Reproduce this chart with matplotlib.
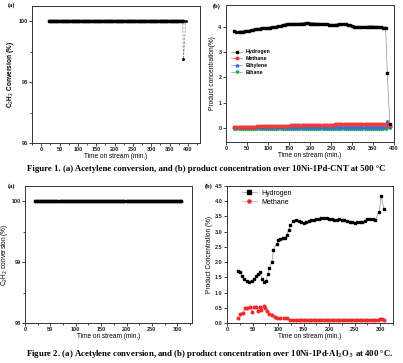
import matplotlib
matplotlib.use("Agg")
import matplotlib.pyplot as plt
from matplotlib.ticker import MultipleLocator, FormatStrFormatter

# ---------------- data ----------------
# Figure 1 (a): C2H2 conversion, 10Ni-1Pd-CNT, 500 C
f1a_time = list(range(20, 387, 3)) + [388, 394]
f1a_conv = [100.0] * 123 + [98.75, 100.0]

# Figure 1 (b): product concentrations
f1b_time = list(range(20, 381, 5)) + [384, 390]
f1b_hydrogen = [3.83, 3.79, 3.79, 3.80, 3.80, 3.81, 3.81, 3.83, 3.85, 3.87,
                3.89, 3.91, 3.92, 3.93, 3.93, 3.94, 3.95, 3.96, 3.97, 3.98,
                3.99, 4.01, 4.03, 4.06, 4.08, 4.10, 4.10, 4.11, 4.11, 4.11,
                4.11, 4.11, 4.12, 4.12, 4.13, 4.13, 4.12, 4.12, 4.12, 4.11,
                4.11, 4.11, 4.10, 4.09, 4.09, 4.08, 4.07, 4.06, 4.07, 4.08,
                4.09, 4.09, 4.10, 4.09, 4.07, 4.05, 4.03, 4.00, 3.99, 3.99,
                3.99, 3.99, 3.99, 3.99, 4.00, 4.00, 4.00, 3.99, 3.99, 3.98,
                3.97, 3.96, 3.96, 2.16, 0.17]
f1b_methane = [0.03, 0.03, 0.04, 0.04, 0.04, 0.05, 0.05, 0.05, 0.06, 0.06,
               0.06, 0.07, 0.07, 0.07, 0.08, 0.08, 0.08, 0.08, 0.09, 0.09,
               0.09, 0.09, 0.10, 0.10, 0.10, 0.10, 0.10, 0.11, 0.11, 0.11,
               0.11, 0.11, 0.11, 0.12, 0.12, 0.12, 0.12, 0.12, 0.12, 0.12,
               0.13, 0.13, 0.13, 0.13, 0.13, 0.13, 0.13, 0.13, 0.14, 0.14,
               0.14, 0.14, 0.14, 0.14, 0.14, 0.14, 0.14, 0.15, 0.15, 0.15,
               0.15, 0.15, 0.15, 0.15, 0.15, 0.15, 0.15, 0.16, 0.16, 0.16,
               0.16, 0.16, 0.16, 0.15, 0.10]
f1b_ethylene = [0.06, 0.06, 0.05, 0.06, 0.06, 0.06, 0.05, 0.06, 0.06, 0.06,
                0.06, 0.06, 0.06, 0.05, 0.06, 0.06, 0.06, 0.06, 0.06, 0.06,
                0.06, 0.06, 0.06, 0.06, 0.05, 0.06, 0.06, 0.06, 0.06, 0.06,
                0.06, 0.06, 0.06, 0.06, 0.06, 0.06, 0.06, 0.06, 0.06, 0.06,
                0.06, 0.06, 0.06, 0.06, 0.06, 0.06, 0.06, 0.06, 0.06, 0.06,
                0.06, 0.06, 0.06, 0.06, 0.06, 0.06, 0.06, 0.06, 0.06, 0.06,
                0.06, 0.06, 0.06, 0.06, 0.06, 0.06, 0.06, 0.06, 0.06, 0.06,
                0.06, 0.06, 0.07, 0.27, 0.08]
f1b_ethane = [-0.02, -0.02, -0.02, -0.02, -0.02, -0.02, -0.02, -0.02, -0.02, -0.02,
              -0.02, -0.02, -0.02, -0.02, -0.02, -0.02, -0.02, -0.02, -0.02, -0.02,
              -0.02, -0.02, -0.02, -0.02, -0.02, -0.02, -0.02, -0.02, -0.02, -0.02,
              -0.02, -0.02, -0.02, -0.02, -0.02, -0.02, -0.02, -0.02, -0.02, -0.02,
              -0.02, -0.02, -0.02, -0.02, -0.02, -0.02, -0.02, -0.02, -0.02, -0.02,
              -0.02, -0.02, -0.02, -0.02, -0.02, -0.02, -0.02, -0.02, -0.02, -0.02,
              -0.02, -0.02, -0.02, -0.02, -0.02, -0.02, -0.02, -0.02, -0.02, -0.02,
              -0.02, -0.02, -0.02, 0.00, -0.01]

# Figure 2 (a): C2H2 conversion, 10Ni-1Pd-Al2O3, 400 C
f2a_time = list(range(20, 311, 4))
f2a_conv = [100.0] * len(range(20, 311, 4))

# Figure 2 (b): product concentrations
f2b_h2_time = [21, 26, 29, 34, 39, 44, 49, 52, 57, 60, 65, 68, 72, 76, 80, 83, 88, 91,
               97, 100, 104, 110, 114, 117, 121, 124] + list(range(130, 295, 5)) + \
              [298, 302, 307]
f2b_hydrogen = [1.72, 1.69, 1.53, 1.44, 1.38, 1.36, 1.38, 1.44, 1.53, 1.61, 1.66, 1.46,
                1.36, 1.38, 1.61, 1.80, 2.02, 2.40, 2.59, 2.71, 2.76, 2.79, 2.79, 2.88,
                3.07, 3.21,
                3.35, 3.37, 3.36, 3.33, 3.30, 3.31, 3.34, 3.37, 3.39, 3.41,
                3.42, 3.44, 3.45, 3.44, 3.42, 3.40, 3.37, 3.38, 3.40, 3.39,
                3.37, 3.35, 3.33, 3.31, 3.30, 3.31, 3.32, 3.33, 3.36, 3.42,
                3.43, 3.41, 3.38,
                3.66, 4.17, 3.75]
f2b_ch4_time = [21, 26, 31, 36, 40, 46, 49, 53, 57, 60, 64, 67, 72, 75, 78, 83, 88, 93,
                98, 104, 111, 117, 124] + list(range(130, 300, 5)) + [300, 303, 307]
f2b_methane = [0.15, 0.31, 0.34, 0.48, 0.50, 0.51, 0.37, 0.53, 0.54, 0.39, 0.53, 0.43,
               0.57, 0.48, 0.39, 0.31, 0.26, 0.20, 0.18, 0.18, 0.17, 0.15, 0.11,
               0.10, 0.09, 0.09, 0.10, 0.10, 0.09, 0.09, 0.10, 0.10, 0.10,
               0.09, 0.09, 0.10, 0.10, 0.10, 0.09, 0.09, 0.09, 0.10, 0.10,
               0.10, 0.10, 0.10, 0.11, 0.11, 0.11, 0.11, 0.11, 0.10, 0.10,
               0.10, 0.11, 0.11, 0.10,
               0.12, 0.14, 0.09]

# ---------------- style ----------------
W, H = 403, 363
fig = plt.figure(figsize=(W / 100, H / 100), dpi=100)
SANS = ["Liberation Sans", "DejaVu Sans"]
TICK_FS = 4.0
LAB_FS = 4.7

def rect(l, r, t, b):
    return [l / W, 1 - b / H, (r - l) / W, (b - t) / H]

def style(ax):
    for s in ax.spines.values():
        s.set_linewidth(0.7)
        s.set_color("#333333")
    ax.tick_params(which="major", direction="out", length=2.0, width=0.6,
                   labelsize=TICK_FS, pad=1.2, colors="#222222")
    ax.tick_params(which="minor", direction="out", length=1.1, width=0.5)
    for lab in ax.get_xticklabels() + ax.get_yticklabels():
        lab.set_fontweight("bold")
        lab.set_family(SANS)

# ---- Fig 1a
ax1 = fig.add_axes(rect(32, 200, 6, 143))
ax1.plot(f1a_time, f1a_conv, color="#888888", lw=0.5, ls="--", zorder=1)
ax1.plot(f1a_time[:-2], f1a_conv[:-2], ls="-", lw=1.6, marker="s", ms=1.5,
         color="black", zorder=2)
ax1.plot(f1a_time[-2:], f1a_conv[-2:], ls="none", marker="s", ms=1.0, color="black", zorder=2)
ax1.set_xlim(-25, 433)
ax1.set_ylim(96, 100.5)
ax1.xaxis.set_major_locator(MultipleLocator(50))
ax1.xaxis.set_minor_locator(MultipleLocator(25))
ax1.yaxis.set_major_locator(MultipleLocator(2))
ax1.yaxis.set_minor_locator(MultipleLocator(1))
ax1.set_xlabel("Time on stream (min.)", fontsize=LAB_FS, family=SANS, labelpad=0.5)
ax1.set_ylabel("C$_2$H$_2$ Conversion (%)", fontsize=LAB_FS, family=SANS, fontweight="bold", labelpad=2)
style(ax1)

# ---- Fig 1b
ax2 = fig.add_axes(rect(226, 394, 5, 142))
ax2.plot(f1b_time[:-2], f1b_hydrogen[:-2], color="black", lw=1.3, zorder=5)
ax2.plot(f1b_time, f1b_hydrogen, color="#777777", lw=0.4, marker="s", ms=2.0,
         mfc="black", mec="black", label="Hydrogen", zorder=5)
ax2.plot(f1b_time, f1b_ethane, color="#1fa84f", lw=0.4, marker="v", ms=1.9,
         mec="#1fa84f", label="Ethane", zorder=2)
ax2.plot(f1b_time, f1b_ethylene, color="#3a6fd8", lw=0.4, marker="^", ms=1.9,
         mec="#3a6fd8", label="Ethylene", zorder=3)
ax2.plot(f1b_time, f1b_methane, color="#ee3b3b", lw=0.4, marker="o", ms=1.9,
         mec="#ee3b3b", label="Methane", zorder=4)
ax2.set_xlim(0, 400)
ax2.set_ylim(-0.55, 4.85)
ax2.xaxis.set_major_locator(MultipleLocator(50))
ax2.yaxis.set_major_locator(MultipleLocator(1))
ax2.set_xlabel("Time on stream (min.)", fontsize=LAB_FS, family=SANS, labelpad=0.5)
ax2.set_ylabel("Product concentration(%)", fontsize=LAB_FS, family=SANS, labelpad=2)
h, l = ax2.get_legend_handles_labels()
order = [0, 3, 2, 1]
ax2.legend([h[i] for i in order], [l[i] for i in order], loc="upper left",
           bbox_to_anchor=(0.0, 0.71), frameon=False,
           prop={"family": SANS, "size": 3.8, "weight": "bold"},
           handlelength=2.2, labelspacing=0.35, markerscale=1.0, handletextpad=0.6)
style(ax2)

# ---- Fig 2a
ax3 = fig.add_axes(rect(25, 192, 186, 323))
ax3.plot(f2a_time, f2a_conv, ls="none", marker="o", ms=1.8, color="black")
ax3.set_xlim(0, 329)
ax3.set_ylim(98, 100.25)
ax3.xaxis.set_major_locator(MultipleLocator(50))
ax3.xaxis.set_minor_locator(MultipleLocator(25))
ax3.yaxis.set_major_locator(MultipleLocator(1))
ax3.yaxis.set_minor_locator(MultipleLocator(0.5))
ax3.set_xlabel("Time on stream (min.)", fontsize=LAB_FS, family=SANS, labelpad=0.5)
ax3.set_ylabel("C$_2$H$_2$ conversion (%)", fontsize=LAB_FS, family=SANS, labelpad=0.8)
style(ax3)

# ---- Fig 2b
ax4 = fig.add_axes(rect(227, 393, 186, 323))
ax4.plot(f2b_h2_time, f2b_hydrogen, color="#777777", lw=0.4, marker="s", ms=2.1,
         mfc="black", mec="black", label="Hydrogen")
ax4.plot(f2b_ch4_time, f2b_methane, color="#f08080", lw=0.4, marker="o", ms=1.9,
         mfc="#ee2b2b", mec="#ee2b2b", label="Methane")
ax4.set_xlim(0, 325)
ax4.set_ylim(0, 4.5)
ax4.xaxis.set_major_locator(MultipleLocator(50))
ax4.xaxis.set_minor_locator(MultipleLocator(25))
ax4.yaxis.set_major_locator(MultipleLocator(0.5))
ax4.yaxis.set_major_formatter(FormatStrFormatter("%.1f"))
ax4.set_xlabel("Time on stream (min.)", fontsize=LAB_FS, family=SANS, labelpad=0.5)
ax4.set_ylabel("Product Concentration (%)", fontsize=LAB_FS, family=SANS, labelpad=1.5)
ax4.legend(loc="upper left", bbox_to_anchor=(0.05, 1.02), frameon=False,
           prop={"family": SANS, "size": 5.0},
           handlelength=2.2, labelspacing=0.3, handletextpad=0.6, markerscale=1.2)
style(ax4)

# panel tags
for x, y, s in [(8, 5, "(a)"), (213, 6, "(b)"), (8, 186, "(a)"), (205, 186, "(b)")]:
    fig.text(x / W, 1 - y / H, s, fontsize=4.5, family=["Liberation Serif"],
             fontweight="bold", ha="left", va="center")

# captions
fig.text(206 / W, 1 - 169 / H,
         "Figure 1. (a) Acetylene conversion, and (b) product concentration over 10Ni-1Pd-CNT at 500 \u00b0C",
         fontsize=6.3, family=["Liberation Serif"], fontweight="bold", ha="center", va="center")
fig.text(210 / W, 1 - 354 / H,
         "Figure 2. (a) Acetylene conversion, and (b) product concentration over 10Ni-1Pd-Al$_2$O$_3$ at 400 \u00b0C.",
         fontsize=6.3, family=["Liberation Serif"], fontweight="bold", ha="center", va="center")

fig.savefig("out.png", dpi=100)
